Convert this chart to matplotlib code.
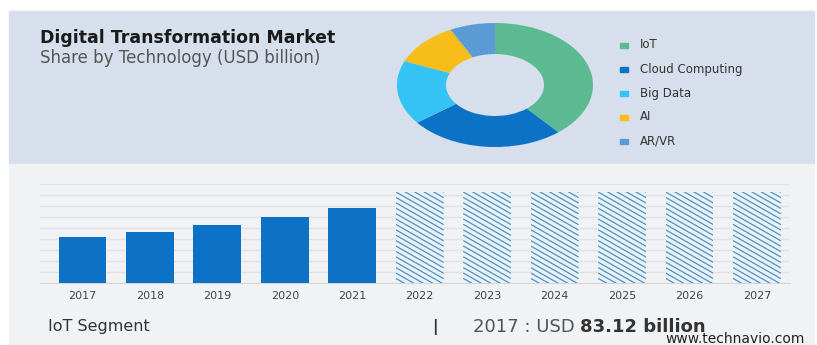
"""Digital transformation market: technology share donut and IoT segment bars."""

import numpy as np
import matplotlib.pyplot as plt
from matplotlib.patches import Rectangle
from matplotlib.collections import LineCollection

W, H = 817, 345

# Technology share (percent of market)
techs = ["IoT", "Cloud Computing", "Big Data", "AI", "AR/VR"]
tech_share = [38.8, 25.8, 16.7, 11.2, 7.5]
tech_colors = ["#5cba92", "#0b72c6", "#35c3f3", "#f7bd1a", "#5b9bd5"]

# IoT segment size, USD billion
years = ["2017", "2018", "2019", "2020", "2021",
         "2022", "2023", "2024", "2025", "2026", "2027"]
iot_actual = [83.12, 93.3, 105.5, 119.4, 137.0]
iot_forecast = [165.0, 165.0, 165.0, 165.0, 165.0, 165.0]


def fx(px):
    return px / W


def fy(py):
    return 1 - py / H


fig = plt.figure(figsize=(W / 100, H / 100), dpi=100)
fig.patch.set_facecolor("white")

# background panels
fig.add_artist(Rectangle((fx(9), fy(164)), fx(814) - fx(9), fy(11) - fy(164),
                         transform=fig.transFigure, color="#d6dfeb", zorder=0))
fig.add_artist(Rectangle((fx(9), 0), fx(814) - fx(9), fy(164),
                         transform=fig.transFigure, color="#f1f2f4", zorder=0))

# titles
fig.text(fx(40), fy(38), "Digital Transformation Market", fontsize=12.5,
         fontweight="bold", color="#1a1a1a", va="center")
fig.text(fx(40), fy(58), "Share by Technology (USD billion)", fontsize=12,
         color="#555555", va="center")

# donut
ax_pie = fig.add_axes([fx(397), fy(147), fx(593) - fx(397), fy(23) - fy(147)])
ax_pie.pie(tech_share, colors=tech_colors, startangle=90, counterclock=False,
           wedgeprops=dict(width=0.5, linewidth=0))
ax_pie.set_aspect("auto")
ax_pie.set_xlim(-1, 1)
ax_pie.set_ylim(-1, 1)
ax_pie.axis("off")

# legend
for i, (name, col) in enumerate(zip(techs, tech_colors)):
    y = 45 + 24 * i
    fig.add_artist(Rectangle((fx(620), fy(y + 2.5)), fx(8), 5 / H,
                             transform=fig.transFigure, color=col))
    fig.text(fx(640), fy(y), name, fontsize=8.5, color="#333333", va="center")

# bar chart
ax = fig.add_axes([fx(40), fy(283), fx(790) - fx(40), fy(184) - fy(283)])
ax.set_facecolor("none")
n_act = len(iot_actual)
ax.bar(range(n_act), iot_actual, width=0.71, color="#0d72c5", zorder=3)
fc_bars = ax.bar(range(n_act, n_act + len(iot_forecast)), iot_forecast,
                 width=0.71, color="#e6f3fb", linewidth=0, zorder=3)
ax.set_xlim(-0.63, len(years) - 0.51)
ax.set_ylim(0, 180)

# shallow diagonal hatching on the forecast bars, clipped to each bar
x_per_px = (len(years) - 0.51 + 0.63) / 750
y_per_px = 180 / 99
for bar in fc_bars:
    x0, w, top = bar.get_x(), bar.get_width(), bar.get_height()
    drop = w / x_per_px * 0.57 * y_per_px
    step = 5.4 * y_per_px
    segs = [[(x0, y0), (x0 + w, y0 - drop)]
            for y0 in np.arange(top + drop, -step, -step)]
    lc = LineCollection(segs, colors="#5890bd", linewidths=0.9, zorder=4)
    ax.add_collection(lc)
    lc.set_clip_path(bar)

ax.set_yticks(range(0, 181, 20))
ax.yaxis.grid(True, color="#dfe2e6", linewidth=1)
ax.set_axisbelow(True)
ax.set_xticks(range(len(years)))
ax.set_xticklabels(years, fontsize=8, color="#444444")
ax.tick_params(axis="x", length=0, pad=6)
ax.tick_params(axis="y", length=0, labelleft=False)
for side in ["top", "right", "left"]:
    ax.spines[side].set_visible(False)
ax.spines["bottom"].set_color("#d3d7dc")

# footer
fig.text(fx(48), fy(327), "IoT Segment", fontsize=11.5, color="#333333",
         va="center")
fig.text(fx(435), fy(327), "|", fontsize=11, fontweight="bold",
         color="#333333", va="center", ha="center")
t1 = fig.text(fx(473), fy(327), "2017 : USD ", fontsize=13, color="#555555",
              va="center")
ax.annotate(f"{iot_actual[0]:.2f} billion", xy=(1, 0.5), xycoords=t1,
            va="center", ha="left", fontsize=13, fontweight="bold",
            color="#333333", annotation_clip=False)
fig.text(fx(665), fy(339), "www.technavio.com", fontsize=10, color="#222222",
         va="center")

fig.savefig("out.png", dpi=100)
